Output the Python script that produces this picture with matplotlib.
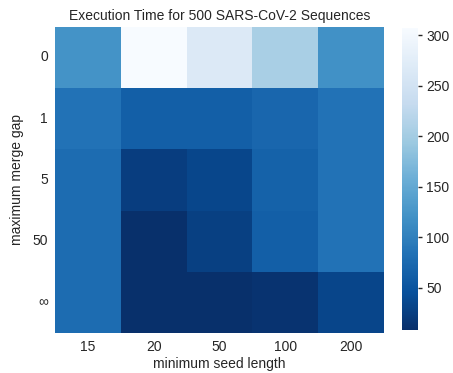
import matplotlib
matplotlib.use("Agg")
import matplotlib.pyplot as plt
import numpy as np
import seaborn as sns

seed_lengths = ["15", "20", "50", "100", "200"]
merge_gaps = ["0", "1", "5", "50", "∞"]

# execution time (s), rows = max merge gap, cols = min seed length
gap_0 = [122, 307, 265, 205, 120]
gap_1 = [84, 62, 62, 70, 84]
gap_5 = [78, 24, 33, 66, 84]
gap_50 = [78, 8, 26, 62, 84]
gap_inf = [78, 8, 9, 12, 32]

times = np.array([gap_0, gap_1, gap_5, gap_50, gap_inf])

sns.set_theme(style="white")
plt.rcParams['font.family'] = ['Liberation Sans', 'DejaVu Sans']

fig = plt.figure(figsize=(4.53, 3.73), dpi=100)
ax = fig.add_axes([0.121, 0.107, 0.727, 0.821])
cax = fig.add_axes([0.887, 0.115, 0.036, 0.81])

sns.heatmap(times, ax=ax, cbar_ax=cax, cmap="Blues_r",
            xticklabels=seed_lengths, yticklabels=merge_gaps)
ax.set_yticklabels(merge_gaps, rotation=0)
ax.tick_params(labelsize=10, length=0, pad=5)
cax.tick_params(labelsize=10, length=3, width=1, pad=3)
ax.set_xlabel("minimum seed length", fontsize=10, labelpad=2)
ax.set_ylabel("maximum merge gap", fontsize=10, labelpad=6)
ax.set_title("Execution Time for 500 SARS-CoV-2 Sequences", fontsize=10, pad=5)

fig.savefig("out.png", dpi=100)
